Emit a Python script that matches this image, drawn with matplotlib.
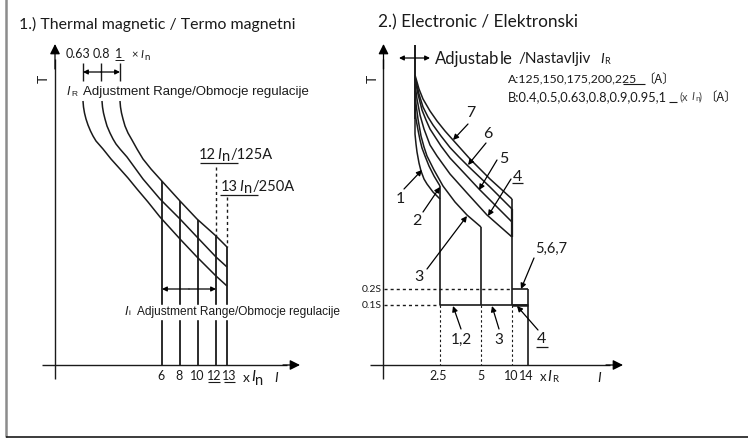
import matplotlib
matplotlib.use('Agg')
import matplotlib.pyplot as plt

plt.rcParams['font.family'] = ['Lato', 'DejaVu Sans']
narrow = ['Liberation Sans Narrow', 'Lato']
arial = 'Liberation Sans'
cjk = 'Noto Sans CJK SC'

# left chart: trip curves in pixels
therm_x1 = [83, 83.5, 84.5, 86, 88, 90.5, 93, 96, 99.5, 103, 107, 111, 120, 128, 137, 148, 160, 170, 180, 197, 216, 227]
therm_y1 = [102, 108, 114, 120, 126, 132, 137, 142, 146, 150, 155, 160, 170, 179, 190, 203, 218, 229, 240, 258, 277, 287]
therm_x2 = [102, 102.5, 103.5, 105, 107, 110, 113, 116, 120, 127, 135, 143, 160, 180, 197, 216, 227]
therm_y2 = [102, 108, 114, 120, 127, 134, 140, 145, 150, 158, 169, 180, 200, 220, 238, 258, 268]
therm_x3 = [120, 120.5, 121.5, 123, 125, 128, 132, 137, 143, 151, 160, 180, 197, 216, 227]
therm_y3 = [102, 108, 114, 120, 127, 134, 141, 150, 160, 170, 180, 202, 220, 237, 248]
therm_ticks = [162, 180, 198, 216, 227]
therm_tops = [182, 202, 221, 237, 248]
therm_labels = ['6', '8', '10', '12', '13']
therm_label_x = [161, 179, 197, 214, 229]
range_ticks = [83, 101, 120]
range_labels = ['0.63', '0.8', '1']
range_label_x = [78.5, 101, 119]

# right chart
elec_x1 = [415, 415, 416, 417, 419, 421, 424, 427, 433, 440]
elec_y1 = [120, 135, 145, 153, 164, 172, 180, 185, 193, 200]
elec_x2 = [415, 415, 416, 418, 420, 422, 425, 429, 434, 440]
elec_y2 = [100, 110, 120, 131, 141, 149, 157, 167, 177, 187]
elec_x3 = [415, 416, 418, 421, 424, 427, 434, 443, 455, 467, 481]
elec_y3 = [92, 105, 120, 137, 148, 157, 171, 187, 203, 216, 228]
elec_x4 = [415, 417, 420, 424, 430, 437, 450, 467, 487, 512]
elec_y4 = [85, 100, 116, 130, 146, 157, 175, 194, 216, 238]
elec_x5 = [415, 418, 422, 426, 430, 441, 450, 465, 479, 496, 512]
elec_y5 = [80, 95, 111, 121, 130, 147, 159, 175, 190, 207, 223]
elec_x6 = [415, 419, 423, 428, 433, 441, 450, 459, 468, 490, 512]
elec_y6 = [78, 95, 108, 118, 126, 137, 148.5, 158, 167, 188, 210]
elec_x7 = [415, 419, 423, 430, 437, 445, 453, 470, 490, 512]
elec_y7 = [76, 90, 100, 112, 122, 132, 141, 160, 180, 200]
elec_ends = [440, 481, 512]
elec_tops = [187, 228, 200]
elec_labels = ['2.5', '5', '10', '14']
elec_label_x = [438, 480.5, 511, 526]
elec_ticks = [440, 481, 512]

fig = plt.figure(figsize=(7.48, 4.39), dpi=100)
ax = fig.add_axes([0, 0, 1, 1])
ax.set_xlim(0, 748)
ax.set_ylim(439, 0)
ax.axis('off')

dark = '#1a1a1a'


def line(xs, ys, lw=1.0, color=dark):
    ax.plot(xs, ys, color=color, lw=lw, solid_capstyle='butt', solid_joinstyle='round')


def dashed(xs, ys, lw=1.0):
    ax.plot(xs, ys, color=dark, lw=lw, ls=(0, (2.2, 2.2)))


def arrow(x0, y0, x1, y1, lw=0.9, ms=8):
    ax.annotate('', xy=(x1, y1), xytext=(x0, y0),
                arrowprops=dict(arrowstyle='-|>', color='black', lw=lw,
                                mutation_scale=ms, shrinkA=0, shrinkB=0))


def label(x, y, s, size=9, ha='center', color=dark, **kw):
    ax.text(x, y, s, fontsize=size, ha=ha, va='center', color=color, **kw)


# outer frame
line([6, 6], [0, 438], lw=1.8, color='#8c8c8c')
line([6, 748], [438, 438], lw=1.2)

# titles
label(19, 24, '1.) Thermal magnetic / Termo magnetni', size=11.4, ha='left')
label(378, 22, '2.) Electronic / Elektronski', size=12.4, ha='left')

# axes of both charts
for ox, x_start, x_end in [(55, 42, 299), (383.5, 370, 622)]:
    line([ox, ox], [60, 380])
    line([x_start, x_end - 12], [366, 366])
    arrow(ox, 70, ox, 45, ms=15)
    arrow(x_end - 16, 366, x_end + 1, 366, ms=15)
    label(ox - 11, 79, 'T', size=10, rotation=90)
    label(x_end - 23, 378, 'I', size=10, style='italic')

# left chart curves
line(therm_x1, therm_y1, lw=1.1)
line(therm_x2, therm_y2, lw=1.1)
line(therm_x3, therm_y3, lw=1.1)
for x, top, lx, lb in zip(therm_ticks, therm_tops, therm_label_x, therm_labels):
    line([x, x], [top, 366], lw=1.3)
    label(lx, 376, lb, size=9, family=narrow)
line([208, 220], [383, 383], lw=0.8)
line([224, 235], [383, 383], lw=0.8)
dashed([216, 216], [168, 237])
dashed([227, 227], [198, 248])
line([200, 238], [164, 164], lw=0.9)
line([220, 258], [196, 196], lw=0.9)

label(199, 155, '12', size=10.5, ha='left')
label(217, 155, 'I', size=10.5, ha='left', style='italic')
label(222, 157, 'n', size=10.5, ha='left')
label(231, 155, '/125A', size=10.5, ha='left')
label(221, 187, '13', size=10.5, ha='left')
label(239, 187, 'I', size=10.5, ha='left', style='italic')
label(244, 189, 'n', size=10.5, ha='left')
label(253, 187, '/250A', size=10.5, ha='left')

# range bracket on top
for x, lx, lb in zip(range_ticks, range_label_x, range_labels):
    line([x, x], [64, 82])
    label(lx, 54, lb, size=9, family=narrow)
line([115, 124], [61, 61], lw=0.7)
arrow(101, 73, 83, 73, ms=7)
arrow(101, 73, 120, 73, ms=7)
label(131, 55, '×', size=8, ha='left')
label(140, 55, 'I', size=8, ha='left', style='italic')
label(144, 57, 'n', size=7, ha='left')

label(67, 92, 'I', size=9, ha='left', style='italic', family=arial)
label(71, 94, 'R', size=6, ha='left', family=arial)
label(83, 92, 'Adjustment Range/Obmocje regulacije', size=9.55, ha='left', family=arial)

# Ii range
ax.fill_between([124, 341], 306, 320, color='white', zorder=3)
for x, y, s, size, st in [(125, 312, 'I', 9, 'italic'), (129, 314, 'i', 6, 'normal'),
                          (137, 312, 'Adjustment Range/Obmocje regulacije', 8.6, 'normal')]:
    ax.text(x, y, s, fontsize=size, style=st, family=arial, ha='left', va='center', color=dark, zorder=4)
arrow(189, 290, 162, 290, ms=7)
arrow(189, 290, 216, 290, ms=7)

label(243, 378, 'x', size=10, ha='left')
label(251, 377, 'I', size=11, ha='left', style='italic')
label(255, 381, 'n', size=10.5, ha='left')

# right chart curves
line([415, 415], [46, 120], lw=1.4)
for xs, ys in [(elec_x1, elec_y1), (elec_x2, elec_y2), (elec_x3, elec_y3), (elec_x4, elec_y4),
               (elec_x5, elec_y5), (elec_x6, elec_y6), (elec_x7, elec_y7)]:
    line(xs, ys, lw=1.1)
for x, top in zip(elec_ends, elec_tops):
    line([x, x], [top, 306], lw=1.2)
line([512, 512], [210, 238], lw=1.6)
arrow(414, 59, 399, 59, ms=7)
arrow(415, 59, 430, 59, ms=7)

# short time step
line([440, 528], [306, 306], lw=1.2)
line([512, 528], [290, 290], lw=1.2)
line([528, 528], [290, 366], lw=1.2)
line([512, 528], [306, 306], lw=1.8)
dashed([384, 512], [290, 290])
dashed([384, 440], [306, 306])
for x in elec_ticks:
    dashed([x, x], [306, 366], lw=0.8)
for x, lb in zip(elec_label_x, elec_labels):
    label(x, 376, lb, size=9, family=narrow)
label(372, 290, '0.2S', size=7.5, family=narrow)
label(372, 306, '0.1S', size=7.5, family=narrow)
label(540, 377, 'x', size=9.5, ha='left')
label(547, 377, 'I', size=10.5, ha='left', style='italic')
label(552, 380, 'R', size=7, ha='left')

label(435, 59, 'Adjustab', size=12, ha='left')
label(500, 59, 'le', size=12, ha='left')
label(518, 59, '/Nastavljiv', size=11, ha='left')
label(600, 59, 'I', size=10, ha='left', style='italic')
label(604, 62, 'R', size=6.5, ha='left')
label(508, 79, 'A:125,150,175,200,225', size=8.8, ha='left')
label(642, 79, '〔A〕', size=9, ha='left', family=cjk)
line([623, 645], [85, 85], lw=0.8)
label(508, 97, 'B:0.4,0.5,0.63,0.8,0.9,0.95,1', size=9.3, ha='left')
line([669, 677], [103, 103], lw=0.8)
label(680, 97, '(x', size=8, ha='left', color='#444444')
label(691, 97, 'I', size=8, ha='left', style='italic', color='#444444')
label(695, 99, 'n', size=6, ha='left', color='#444444')
label(699, 97, ')', size=8, ha='left', color='#444444')
label(704, 97, '〔A〕', size=9, ha='left', family=cjk)

# callouts: label, label x, label y, tail x, tail y, tip x, tip y
callouts = [
    ('1', 400, 199, 404, 190, 422, 171),
    ('2', 417, 221, 423, 213, 440, 188),
    ('3', 419, 277, 427, 270, 467, 217),
    ('7', 471, 113, 468, 125, 453, 141),
    ('6', 488, 134, 486, 144, 468, 166),
    ('5', 504, 159, 497, 161, 479, 191),
]
for name, lx, ly, x0, y0, x1, y1 in callouts:
    label(lx, ly, name, size=11.5)
    arrow(x0, y0, x1, y1, ms=8)

# underlined 4 on the curve, with its own leader
label(517, 177, '4', size=11.5)
line([512, 523], [184, 184], lw=0.9)
arrow(511, 180, 488, 217, ms=8)

label(551, 249, '5,6,7', size=10.5)
arrow(534, 259, 521, 290, ms=8)
label(461, 340, '1,2', size=11)
arrow(461, 330, 453, 307, ms=8)
label(499, 340, '3', size=11)
arrow(499, 330, 492, 307, ms=8)
label(541, 339, '4', size=11.5)
line([536, 548], [348, 348], lw=0.9)
arrow(538, 331, 517, 307, ms=8)

fig.savefig('out.png', dpi=100)
